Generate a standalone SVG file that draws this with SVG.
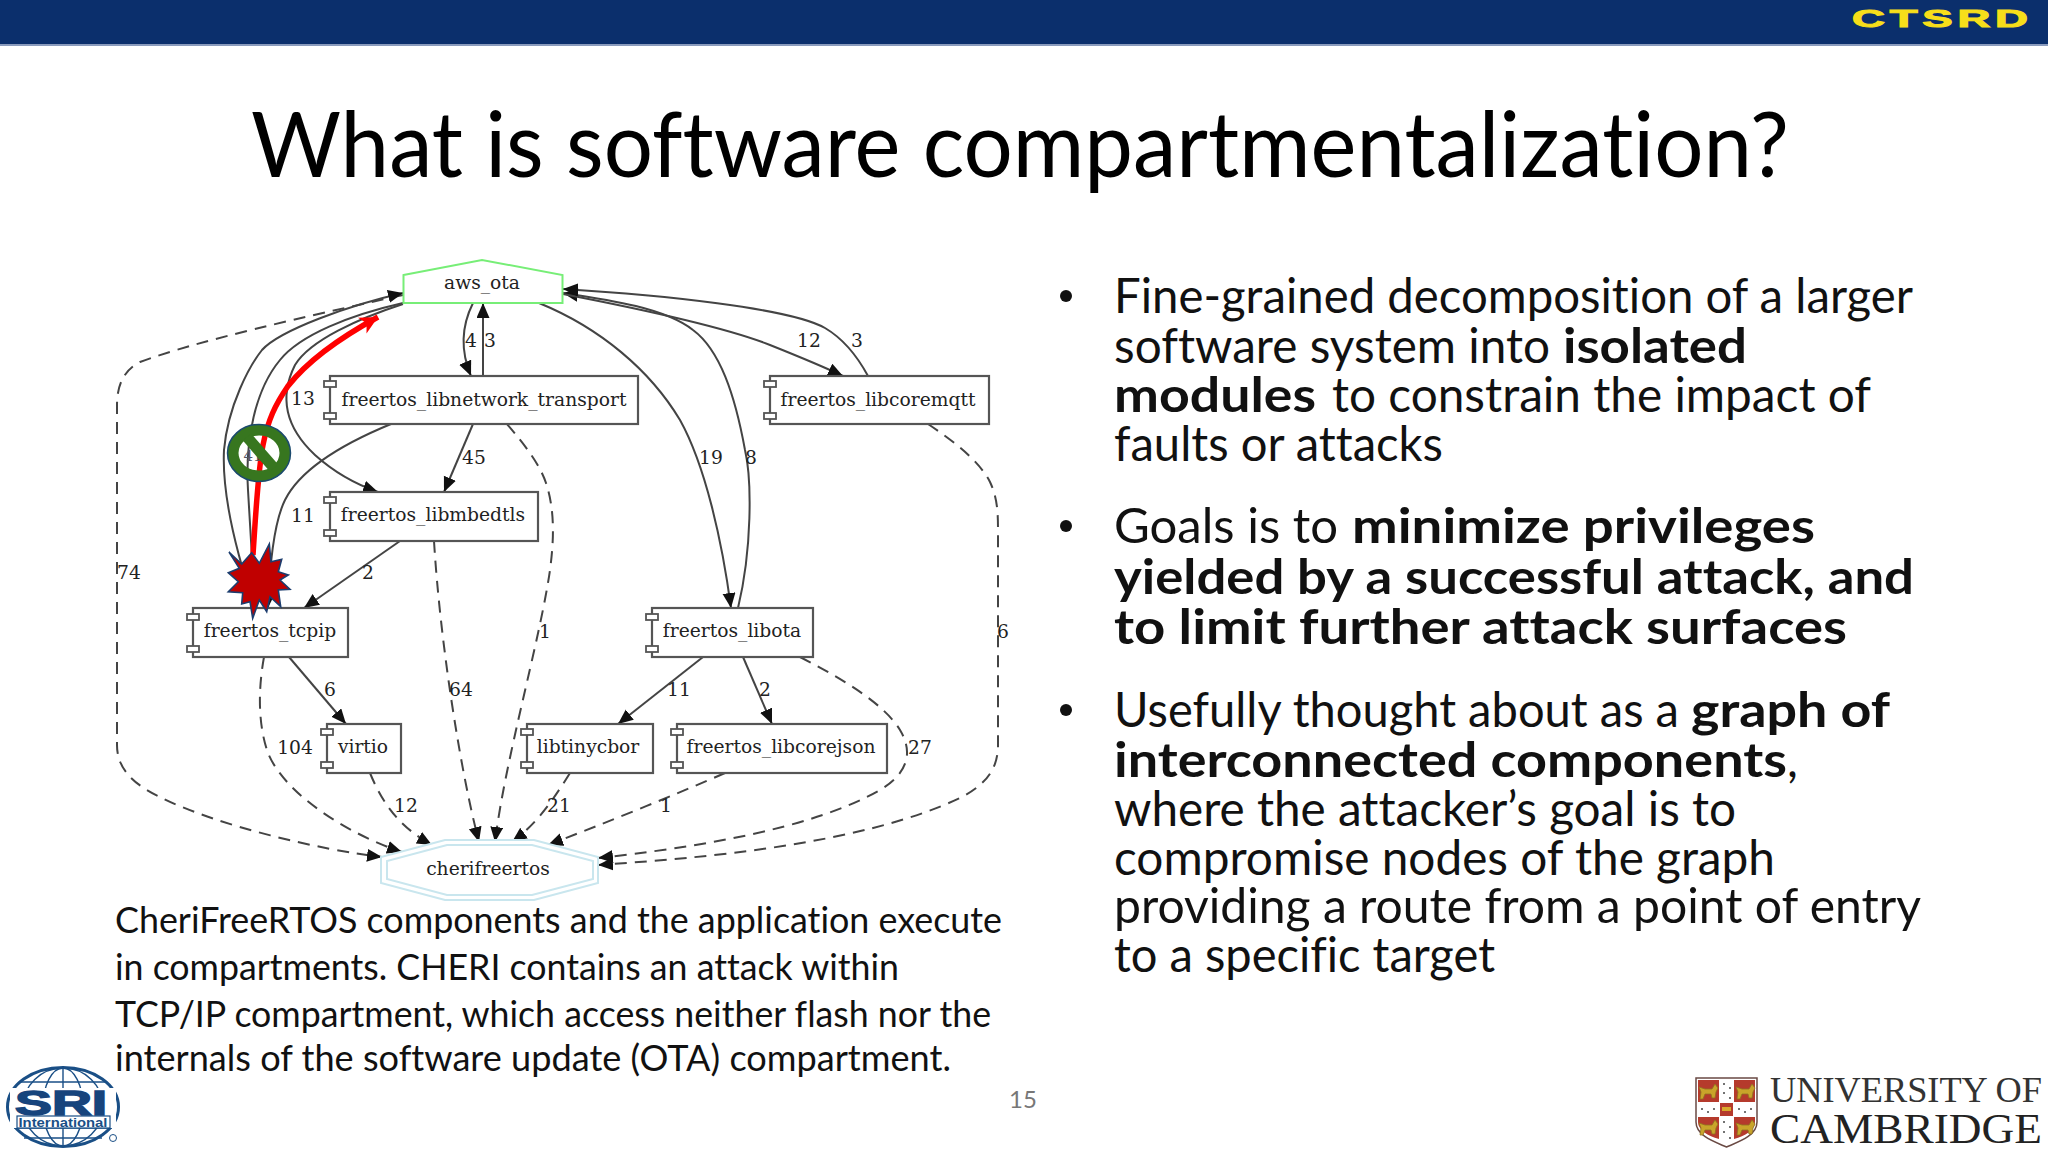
<svg xmlns="http://www.w3.org/2000/svg" xmlns:xlink="http://www.w3.org/1999/xlink" width="2048" height="1152" viewBox="0 0 2048 1152">
<style>
.n{fill:#fff;stroke:#555;stroke-width:2.2}
.t{font-family:"DejaVu Serif",serif;font-size:18.7px;fill:#222;text-anchor:middle}
.l{font-family:"DejaVu Serif",serif;font-size:18.7px;fill:#222;text-anchor:middle}
.e{fill:none;stroke:#444;stroke-width:2;marker-end:url(#a)}
.d{fill:none;stroke:#444;stroke-width:2;stroke-dasharray:12 8;marker-end:url(#a)}
.b{font-family:Lato,"Open Sans",sans-serif;font-size:48px;fill:#111;font-variant-ligatures:none}
.c{font-family:Lato,"Open Sans",sans-serif;font-size:36px;fill:#111;font-variant-ligatures:none}
.w{font-weight:700}
.tab{fill:#fff;stroke:#555;stroke-width:1.8}
</style>
<defs>
<marker id="a" markerUnits="userSpaceOnUse" markerWidth="16" markerHeight="14" refX="15" refY="6.5" orient="auto"><path d="M0 0L15 6.5L0 13Z" fill="#111"/></marker>
<marker id="r" markerUnits="userSpaceOnUse" markerWidth="22" markerHeight="20" refX="18" refY="9" orient="auto"><path d="M0 0L18 9L0 18L5 9Z" fill="#f00"/></marker>
<g id="lion"><path d="M-9 -4L-3 -2H4L7 -7L10 -3L8 1L7 7H4L3 3H-3L-5 8H-8L-7 1Z" fill="#c9a42a" stroke="#8f7420" stroke-width=".8"/></g>
</defs>
<rect width="2048" height="1152" fill="#fff"/>
<g id="header">
<rect width="2048" height="44" fill="#0b2f6c"/>
<rect y="44" width="2048" height="2" fill="#8a9bbd"/>
<text transform="translate(1852 27) scale(1.9 1)" font-family="'Liberation Sans',sans-serif" font-weight="700" font-size="24" letter-spacing="2.500" fill="#f7de1a" stroke="#f7de1a" stroke-width="1">CTSRD</text>
</g>
<text id="title" x="251" y="177" font-family="Lato,'Open Sans',sans-serif" font-size="92" fill="#000" style="font-variant-ligatures:none" textLength="1538" lengthAdjust="spacingAndGlyphs">What is software compartmentalization?</text>

<g id="connectors">
<path class="d" d="M403 295C300 318 200 340 140 362C124 370 117 385 117 405L117 745C117 770 135 785 160 797C215 825 320 850 382 857"/>
<path class="e" d="M255 608C232 540 222 490 224 450C228 405 250 365 262 350C280 330 350 305 403 293"/>
<path class="e" d="M403 303C350 315 300 335 280 360C255 390 245 440 248 490L255 608"/>
<path class="e" d="M403 304C360 318 310 340 295 365C280 395 283 425 315 455C335 473 355 484 378 492"/>
<path class="e" d="M391 424C340 445 300 470 285 500C275 520 270 555 268 608"/>
<path class="e" d="M473 303C462 325 460 350 471 376"/>
<path class="e" d="M483 376L483 303"/>
<path class="e" d="M473 424L444 492"/>
<path class="d" d="M507 424C525 445 540 465 546 483C555 510 554 540 550 570C540 640 505 760 495 842"/>
<path class="d" d="M434 541C440 640 460 770 479 842"/>
<path class="e" d="M400 541L304 608"/>
<path class="d" d="M264 657C258 690 258 725 268 753C285 795 350 835 402 852"/>
<path class="e" d="M289 657L346 724"/>
<path class="d" d="M370 773C385 810 405 830 432 845"/>
<path class="d" d="M570 773C550 805 535 825 512 842"/>
<path class="d" d="M725 773C670 797 600 825 548 845"/>
<path class="d" d="M800 657C845 680 885 705 900 730C915 755 905 775 880 790C810 830 690 848 598 858"/>
<path class="d" d="M928 424C955 442 980 462 990 482C997 497 998 510 998 530L998 745C998 770 985 785 960 798C860 845 700 858 598 865"/>
<path class="e" d="M539 303C600 328 650 370 680 420C705 465 722 540 731 608"/>
<path class="e" d="M738 608C752 550 752 480 745 450C735 395 720 350 693 330C665 308 610 300 563 293"/>
<path class="e" d="M563 294C620 305 720 325 770 345C795 355 820 365 843 376"/>
<path class="e" d="M868 376C855 352 842 338 825 328C790 308 660 295 563 289"/>
<path class="e" d="M703 657L618 724"/>
<path class="e" d="M743 657L772 724"/>
<path fill="none" stroke="#f00" stroke-width="5.5" marker-end="url(#r)" d="M253 555C256 510 258 470 263 445C268 420 275 405 288 386C310 358 345 335 378 317"/>
</g>

<g id="node-aws_ota"><path d="M403.5 275L482 260L562.5 275V303H403.5Z" fill="#fff" fill-opacity="0" stroke="#77ee77" stroke-width="2"/><text class="t" x="482" y="289">aws_ota</text></g>
<g id="node-libnetwork"><rect class="n" x="330" y="376" width="308" height="48"/><rect class="tab" x="324" y="381" width="12" height="6"/><rect class="tab" x="324" y="413" width="12" height="6"/><text class="t" x="484" y="406">freertos_libnetwork_transport</text></g>
<g id="node-libcoremqtt"><rect class="n" x="770" y="376" width="219" height="48"/><rect class="tab" x="764" y="381" width="12" height="6"/><rect class="tab" x="764" y="413" width="12" height="6"/><text class="t" x="878" y="406">freertos_libcoremqtt</text></g>
<g id="node-libmbedtls"><rect class="n" x="330" y="492" width="208" height="49"/><rect class="tab" x="324" y="497" width="12" height="6"/><rect class="tab" x="324" y="530" width="12" height="6"/><text class="t" x="433" y="521">freertos_libmbedtls</text></g>
<g id="node-tcpip"><rect class="n" x="193" y="608" width="155" height="49"/><rect class="tab" x="187" y="614" width="12" height="6"/><rect class="tab" x="187" y="646" width="12" height="6"/><text class="t" x="270" y="637">freertos_tcpip</text></g>
<g id="node-libota"><rect class="n" x="652" y="608" width="161" height="49"/><rect class="tab" x="646" y="614" width="12" height="6"/><rect class="tab" x="646" y="646" width="12" height="6"/><text class="t" x="732" y="637">freertos_libota</text></g>
<g id="node-virtio"><rect class="n" x="327" y="724" width="74" height="49"/><rect class="tab" x="321" y="729" width="12" height="6"/><rect class="tab" x="321" y="762" width="12" height="6"/><text class="t" x="363" y="753">virtio</text></g>
<g id="node-libtinycbor"><rect class="n" x="527" y="724" width="126" height="49"/><rect class="tab" x="521" y="729" width="12" height="6"/><rect class="tab" x="521" y="762" width="12" height="6"/><text class="t" x="588" y="753">libtinycbor</text></g>
<g id="node-libcorejson"><rect class="n" x="677" y="724" width="210" height="49"/><rect class="tab" x="671" y="729" width="12" height="6"/><rect class="tab" x="671" y="762" width="12" height="6"/><text class="t" x="781" y="753">freertos_libcorejson</text></g>
<g id="node-cherifreertos"><path d="M445 840H534L598 857V883L534 900H445L381 883V857Z" fill="#fff" stroke="#c9e6ee" stroke-width="2"/><path d="M447 845H532L593 861V879L532 895H447L387 879V861Z" fill="#fff" stroke="#c9e6ee" stroke-width="2"/><text class="t" x="488" y="875">cherifreertos</text></g>

<g id="edge-labels">
<text class="l" x="303" y="405">13</text><text class="l" x="471" y="347">4</text><text class="l" x="490" y="347">3</text><text class="l" x="474" y="464">45</text><text class="l" x="303" y="522">11</text><text class="l" x="368" y="579">2</text><text class="l" x="129" y="579">74</text><text class="l" x="545" y="638">1</text><text class="l" x="711" y="464">19</text><text class="l" x="751" y="464">8</text><text class="l" x="809" y="347">12</text><text class="l" x="857" y="347">3</text><text class="l" x="1003" y="638">6</text><text class="l" x="330" y="696">6</text><text class="l" x="461" y="696">64</text><text class="l" x="679" y="696">11</text><text class="l" x="765" y="696">2</text><text class="l" x="295" y="754">104</text><text class="l" x="920" y="754">27</text><text class="l" x="406" y="812">12</text><text class="l" x="559" y="812">21</text><text class="l" x="666" y="812">1</text>
</g>

<g id="no-sign">
<ellipse cx="259" cy="453" rx="26" ry="23" fill="none" stroke="#37761f" stroke-width="11"/>
<ellipse cx="259" cy="453" rx="31.500" ry="28.500" fill="none" stroke="#1b4a6e" stroke-width="1.500"/>
<text x="253" y="461" font-family="'DejaVu Serif',serif" font-size="15" fill="#556" text-anchor="middle">41</text>
<path d="M247 437L274 468" stroke="#37761f" stroke-width="11"/>
</g>
<polygon id="burst" points="229,552 241.7,564 251.7,552.7 259.3,563.3 269.3,544 271,561.7 281.7,559.3 278.3,571.7 288.3,575 280,580 290,589.3 278.3,590 280.7,606.7 270,596.7 266.7,611.7 259.3,600 252.7,618.3 250,601.7 241.7,604 242.7,592.7 228.3,591.7 238.3,581.7 228.3,572.7 239.3,568.3" fill="#c00000" stroke="#1c3d6e" stroke-width="1.6"/>

<g id="bullets">
<circle cx="1066" cy="296" r="6" fill="#111"/><circle cx="1066" cy="526" r="6" fill="#111"/><circle cx="1066" cy="710" r="6" fill="#111"/>
<text class="b" x="1114" y="313" textLength="799" lengthAdjust="spacingAndGlyphs">Fine-grained decomposition of a larger</text>
<text class="b" x="1114" y="363" textLength="436" lengthAdjust="spacingAndGlyphs">software system into</text>
<text class="b w" x="1563" y="363" textLength="184" lengthAdjust="spacingAndGlyphs">isolated</text>
<text class="b w" x="1114" y="412" textLength="202" lengthAdjust="spacingAndGlyphs">modules</text>
<text class="b" x="1332" y="412" textLength="539" lengthAdjust="spacingAndGlyphs">to constrain the impact of</text>
<text class="b" x="1114" y="461" textLength="329" lengthAdjust="spacingAndGlyphs">faults or attacks</text>
<text class="b" x="1114" y="543" textLength="224" lengthAdjust="spacingAndGlyphs">Goals is to</text>
<text class="b w" x="1352" y="543" textLength="463" lengthAdjust="spacingAndGlyphs">minimize privileges</text>
<text class="b w" x="1114" y="594" textLength="800" lengthAdjust="spacingAndGlyphs">yielded by a successful attack, and</text>
<text class="b w" x="1114" y="644" textLength="733" lengthAdjust="spacingAndGlyphs">to limit further attack surfaces</text>
<text class="b" x="1114" y="727" textLength="565" lengthAdjust="spacingAndGlyphs">Usefully thought about as a</text>
<text class="b w" x="1691" y="727" textLength="199" lengthAdjust="spacingAndGlyphs">graph of</text>
<text class="b w" x="1114" y="777" textLength="673" lengthAdjust="spacingAndGlyphs">interconnected components</text>
<text class="b" x="1787" y="777">,</text>
<text class="b" x="1114" y="826" textLength="622" lengthAdjust="spacingAndGlyphs">where the attacker’s goal is to</text>
<text class="b" x="1114" y="875" textLength="661" lengthAdjust="spacingAndGlyphs">compromise nodes of the graph</text>
<text class="b" x="1114" y="923" textLength="807" lengthAdjust="spacingAndGlyphs">providing a route from a point of entry</text>
<text class="b" x="1114" y="972" textLength="381" lengthAdjust="spacingAndGlyphs">to a specific target</text>
</g>
<g id="caption">
<text class="c" x="115" y="933" textLength="887" lengthAdjust="spacingAndGlyphs">CheriFreeRTOS components and the application execute</text>
<text class="c" x="115" y="980" textLength="784" lengthAdjust="spacingAndGlyphs">in compartments. CHERI contains an attack within</text>
<text class="c" x="115" y="1027" textLength="876" lengthAdjust="spacingAndGlyphs">TCP/IP compartment, which access neither flash nor the</text>
<text class="c" x="115" y="1071" textLength="836" lengthAdjust="spacingAndGlyphs">internals of the software update (OTA) compartment.</text>
</g>
<text id="page" x="1023" y="1108" font-family="Lato,sans-serif" font-size="24" fill="#777" text-anchor="middle">15</text>

<g id="sri-logo">
<ellipse cx="63" cy="1107" rx="55.500" ry="39.500" fill="#fff" stroke="#1a4f86" stroke-width="3"/>
<g fill="none" stroke="#1a4f86" stroke-width="1.400"><ellipse cx="63" cy="1107" rx="20" ry="39"/><ellipse cx="63" cy="1107" rx="40" ry="39"/><path d="M63 1068V1146M20 1082H106M12 1092H114M14 1128H112M24 1138H102"/></g>
<rect x="10" y="1088" width="106" height="40" fill="#fff"/>
<text transform="translate(15 1115) scale(1.58 1)" font-family="'Liberation Sans',sans-serif" font-weight="700" font-size="35" fill="#17447c" stroke="#17447c" stroke-width="1.500">SRI</text>
<rect x="17" y="1116" width="93" height="12" fill="#fff" stroke="#1a4f86" stroke-width="1.200"/>
<text x="63" y="1127" font-family="'Liberation Sans',sans-serif" font-weight="700" font-size="13" fill="#1a4f86" text-anchor="middle" textLength="89" lengthAdjust="spacingAndGlyphs">International</text>
<circle cx="113" cy="1138" r="3.500" fill="#fff" stroke="#1a4f86" stroke-width="1"/>
</g>
<g id="cambridge-logo">
<path d="M1696 1078H1757V1122C1757 1136 1738 1142 1726.500 1147C1715 1142 1696 1136 1696 1122Z" fill="#fff" stroke="#6a4a44" stroke-width="1.500"/>
<path d="M1698 1080H1719V1102H1698ZM1734 1080H1755V1102H1734ZM1698 1117H1719V1139C1708 1136 1698 1130 1698 1122ZM1734 1117H1755V1122C1755 1130 1745 1136 1734 1139ZM1720 1103H1733V1116H1720Z" fill="#b53a2c"/>
<use xlink:href="#lion" href="#lion" x="1708" y="1091"/><use xlink:href="#lion" href="#lion" x="1745" y="1091"/><use xlink:href="#lion" href="#lion" x="1708" y="1127"/><use xlink:href="#lion" href="#lion" x="1745" y="1127"/>
<rect x="1722" y="1107" width="9" height="4" fill="#d9a92c"/>
<g fill="#444"><circle cx="1724" cy="1084" r="1"/><circle cx="1730" cy="1088" r="1"/><circle cx="1724" cy="1093" r="1"/><circle cx="1730" cy="1098" r="1"/><circle cx="1724" cy="1122" r="1"/><circle cx="1730" cy="1127" r="1"/><circle cx="1724" cy="1132" r="1"/><circle cx="1730" cy="1138" r="1"/><circle cx="1702" cy="1109" r="1"/><circle cx="1708" cy="1112" r="1"/><circle cx="1714" cy="1109" r="1"/><circle cx="1739" cy="1109" r="1"/><circle cx="1745" cy="1112" r="1"/><circle cx="1751" cy="1109" r="1"/></g>
<text x="1770" y="1102" font-family="'Liberation Serif',serif" font-size="36" fill="#333" textLength="272" lengthAdjust="spacingAndGlyphs">UNIVERSITY OF</text>
<text x="1770" y="1143" font-family="'Liberation Serif',serif" font-size="43" fill="#222" textLength="272" lengthAdjust="spacingAndGlyphs">CAMBRIDGE</text>
</g>
</svg>
